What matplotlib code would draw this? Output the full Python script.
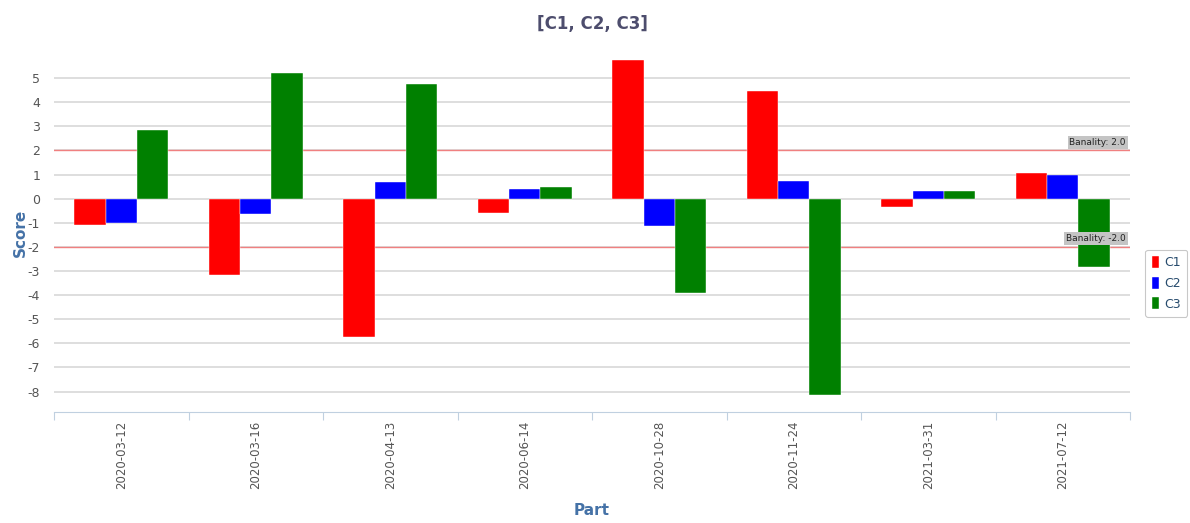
import matplotlib
matplotlib.use("Agg")
import matplotlib.pyplot as plt
import numpy as np

plt.rcParams["axes.unicode_minus"] = False

parts = ["2020-03-12", "2020-03-16", "2020-04-13", "2020-06-14",
         "2020-10-28", "2020-11-24", "2021-03-31", "2021-07-12"]
series_names = ["C1", "C2", "C3"]
c1 = [-1.1, -3.15, -5.75, -0.6, 5.75, 4.45, -0.35, 1.05]
c2 = [-1.0, -0.65, 0.7, 0.4, -1.15, 0.75, 0.3, 1.0]
c3 = [2.85, 5.2, 4.75, 0.5, -3.9, -8.15, 0.3, -2.85]
banality = [2.0, -2.0]

colors = ["#ff0000", "#0000ff", "#008000"]

fig = plt.figure(figsize=(11.9, 5.23), dpi=100)
ax = fig.add_axes([0.0454, 0.2122, 0.9042, 0.6845])

x = np.arange(len(parts))
width = 0.233
for i, (vals, name) in enumerate(zip([c1, c2, c3], series_names)):
    ax.bar(x + (i - 1) * width, vals, width, color=colors[i], label=name,
           edgecolor="white", linewidth=0.3, zorder=3)

ax.set_xlim(-0.5, len(parts) - 0.5)
ax.set_ylim(-8.85, 6)
ax.set_yticks(np.arange(-8, 6))
ax.yaxis.grid(True, color="#d8d8d8", linewidth=1.2, zorder=0)
ax.set_axisbelow(True)

for b in banality:
    ax.axhline(b, color="#f08080", linewidth=1.0, zorder=2)
    ax.text(len(parts) - 0.53, b + 0.15, f"Banality: {b}", ha="right", va="bottom",
            fontsize=6.5, color="#222222", zorder=4,
            bbox=dict(boxstyle="square,pad=0.2", facecolor="#c4c4c4", edgecolor="none"))

for side in ["left", "right", "top"]:
    ax.spines[side].set_visible(False)
ax.spines["bottom"].set_color("#c0d0e0")

# category boundaries as major ticks, labels centred via minor ticks
ax.set_xticks(np.arange(-0.5, len(parts)), minor=False)
ax.set_xticklabels([])
ax.tick_params(axis="x", which="major", length=6, color="#c0d0e0", direction="out")
ax.set_xticks(x, minor=True)
ax.set_xticklabels(parts, minor=True, rotation=90, fontsize=8.5, color="#555555")
ax.tick_params(axis="x", which="minor", length=0, pad=6)
ax.tick_params(axis="y", length=0, labelsize=9, labelcolor="#555555", pad=10)

ax.set_title("[C1, C2, C3]", fontsize=12, fontweight="bold", color="#4d4d6d", pad=18)
ax.set_ylabel("Score", fontsize=11, fontweight="bold", color="#4572a7", labelpad=0)
ax.set_xlabel("Part", fontsize=11, fontweight="bold", color="#4572a7", labelpad=10)

leg = ax.legend(loc="center left", bbox_to_anchor=(1.012, 0.36), frameon=True,
                fontsize=9, handlelength=0.6, handleheight=1.1, handletextpad=0.4,
                borderpad=0.5, labelspacing=0.6, borderaxespad=0.2)
leg.get_frame().set_edgecolor("#bbbbbb")
leg.get_frame().set_linewidth(0.8)
for t in leg.get_texts():
    t.set_color("#274b6d")

fig.savefig("out.png", dpi=100)
